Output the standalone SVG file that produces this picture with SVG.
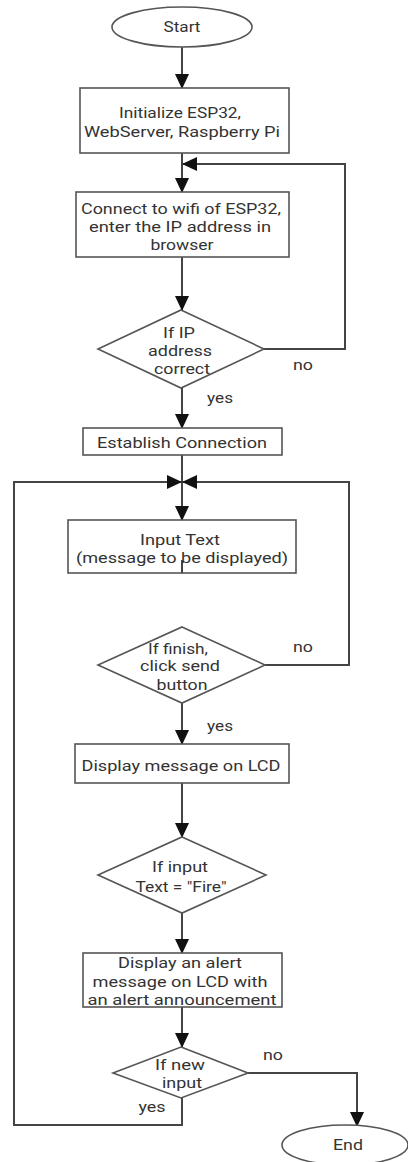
<svg xmlns="http://www.w3.org/2000/svg" width="408" height="1162" viewBox="0 0 408 1162">
<style>
.sh{fill:#fff;stroke:#555;stroke-width:1.6}
.t{font-family:Roboto,"Liberation Sans",sans-serif;font-size:14px;fill:#333;text-anchor:middle}
.c{fill:none;stroke:#444;stroke-width:2}
</style>
<defs>
<marker id="ah" markerUnits="userSpaceOnUse" markerWidth="15" markerHeight="14" refX="14" refY="7" orient="auto" viewBox="0 0 15 14">
<path d="M0,0 L15,7 L0,14 z" fill="#111"/>
</marker>
</defs>
<rect width="408" height="1162" fill="#fff"/>
<g id="connectors">
<path class="c" d="M182 47 V88" marker-end="url(#ah)"/>
<path class="c" d="M182 153 V192" marker-end="url(#ah)"/>
<path class="c" d="M182 257 V310" marker-end="url(#ah)"/>
<path class="c" d="M264 349 H345 V164 H183" marker-end="url(#ah)"/>
<path class="c" d="M182 388 V428" marker-end="url(#ah)"/>
<path class="c" d="M182 455 V520" marker-end="url(#ah)"/>
<path class="c" d="M265 665 H349 V482 H183" marker-end="url(#ah)"/>
<path class="c" d="M182 703 V744" marker-end="url(#ah)"/>
<path class="c" d="M182 783 V837" marker-end="url(#ah)"/>
<path class="c" d="M182 913 V953" marker-end="url(#ah)"/>
<path class="c" d="M182 1007 V1047" marker-end="url(#ah)"/>
<path class="c" d="M248 1073 H357 V1126" marker-end="url(#ah)"/>
<path class="c" d="M182 1098 V1125 H14 V482 H181" marker-end="url(#ah)"/>
</g>
<g id="start">
<ellipse class="sh" cx="182" cy="27" rx="70" ry="20"/>
<text class="t" x="182" y="32" textLength="37" lengthAdjust="spacingAndGlyphs">Start</text>
</g>
<g id="init">
<rect class="sh" x="80" y="88" width="209" height="65"/>
<text class="t" x="180" y="118" textLength="122" lengthAdjust="spacingAndGlyphs">Initialize ESP32,</text>
<text class="t" x="182" y="137" textLength="196" lengthAdjust="spacingAndGlyphs">WebServer, Raspberry Pi</text>
</g>
<g id="connect">
<rect class="sh" x="76" y="192" width="213" height="65"/>
<text class="t" x="181" y="214" textLength="200" lengthAdjust="spacingAndGlyphs">Connect to wifi of ESP32,</text>
<text class="t" x="180" y="232" textLength="182" lengthAdjust="spacingAndGlyphs">enter the IP address in</text>
<text class="t" x="182" y="250" textLength="63" lengthAdjust="spacingAndGlyphs">browser</text>
</g>
<g id="ipcheck">
<polygon class="sh" points="181,310 264,349 181,388 98,349"/>
<text class="t" x="179" y="338" textLength="32" lengthAdjust="spacingAndGlyphs">If IP</text>
<text class="t" x="180" y="356" textLength="64" lengthAdjust="spacingAndGlyphs">address</text>
<text class="t" x="182" y="374" textLength="56" lengthAdjust="spacingAndGlyphs">correct</text>
</g>
<g id="establish">
<rect class="sh" x="83" y="428" width="199" height="27"/>
<text class="t" x="182" y="448" textLength="170" lengthAdjust="spacingAndGlyphs">Establish Connection</text>
</g>
<g id="input">
<rect class="sh" x="68" y="520" width="228" height="53"/>
<text class="t" x="180" y="545" textLength="80" lengthAdjust="spacingAndGlyphs">Input Text</text>
<text class="t" x="182" y="563" textLength="212" lengthAdjust="spacingAndGlyphs">(message to be displayed)</text>
<path class="c" d="M182 560 V573"/>
</g>
<g id="finish">
<polygon class="sh" points="182,627 265,665 182,703 98,665"/>
<text class="t" x="178" y="654" textLength="60" lengthAdjust="spacingAndGlyphs">If finish,</text>
<text class="t" x="180" y="671" textLength="80" lengthAdjust="spacingAndGlyphs">click send</text>
<text class="t" x="182" y="690" textLength="51" lengthAdjust="spacingAndGlyphs">button</text>
</g>
<g id="display">
<rect class="sh" x="75" y="744" width="214" height="39"/>
<text class="t" x="181" y="771" textLength="199" lengthAdjust="spacingAndGlyphs">Display message on LCD</text>
</g>
<g id="fire">
<polygon class="sh" points="182,837 266,875 182,913 98,875"/>
<text class="t" x="180" y="872" textLength="56" lengthAdjust="spacingAndGlyphs">If input</text>
<text class="t" x="181" y="892" textLength="91" lengthAdjust="spacingAndGlyphs">Text = "Fire"</text>
</g>
<g id="alert">
<rect class="sh" x="83" y="953" width="199" height="54"/>
<text class="t" x="180" y="968" textLength="124" lengthAdjust="spacingAndGlyphs">Display an alert</text>
<text class="t" x="180" y="987" textLength="175" lengthAdjust="spacingAndGlyphs">message on LCD with</text>
<text class="t" x="182" y="1005" textLength="189" lengthAdjust="spacingAndGlyphs">an alert announcement</text>
</g>
<g id="newinput">
<polygon class="sh" points="181,1047 248,1073 181,1098 113,1073"/>
<text class="t" x="180" y="1070" textLength="50" lengthAdjust="spacingAndGlyphs">If new</text>
<text class="t" x="182" y="1088" textLength="40" lengthAdjust="spacingAndGlyphs">input</text>
</g>
<g id="end">
<ellipse class="sh" cx="345" cy="1145" rx="63" ry="20"/>
<text class="t" x="348" y="1150" textLength="30" lengthAdjust="spacingAndGlyphs">End</text>
</g>
<g id="labels">
<text class="t" x="303" y="370" textLength="20" lengthAdjust="spacingAndGlyphs">no</text>
<text class="t" x="220" y="403" textLength="26" lengthAdjust="spacingAndGlyphs">yes</text>
<text class="t" x="303" y="652" textLength="20" lengthAdjust="spacingAndGlyphs">no</text>
<text class="t" x="220" y="731" textLength="26" lengthAdjust="spacingAndGlyphs">yes</text>
<text class="t" x="273" y="1060" textLength="20" lengthAdjust="spacingAndGlyphs">no</text>
<text class="t" x="152" y="1112" textLength="27" lengthAdjust="spacingAndGlyphs">yes</text>
</g>
</svg>
